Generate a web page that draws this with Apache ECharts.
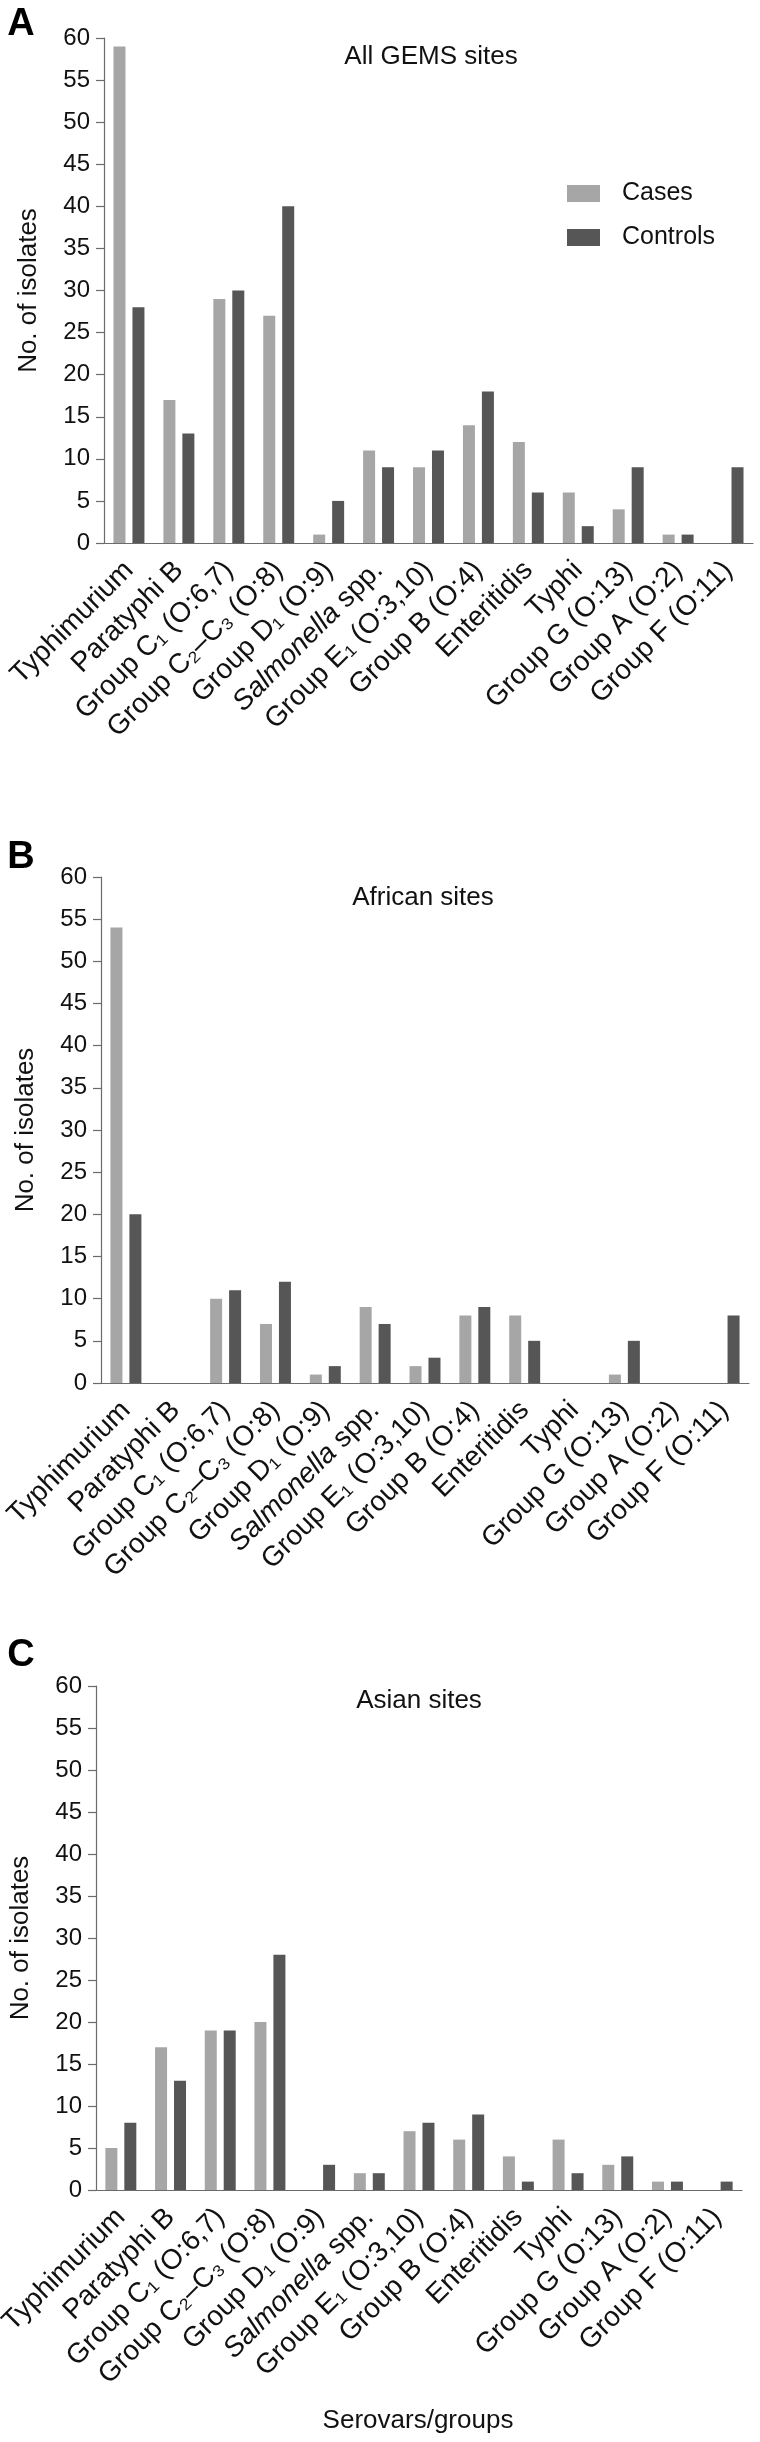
<!DOCTYPE html>
<html>
<head>
<meta charset="utf-8">
<title>Salmonella isolates</title>
<script src="https://cdn.jsdelivr.net/npm/echarts@6/dist/echarts.min.js"></script>
<style>
  html, body { margin: 0; padding: 0; background: #fff; }
  #main { width: 760px; height: 2442px; }
</style>
</head>
<body>
<div id="main"></div>
<script>
// serovars / groups on the x axis (same order in all three panels)
var categories = [
  'Typhimurium', 'Paratyphi B', 'Group C\u2081 (O:6,7)', 'Group C\u2082\u2013C\u2083 (O:8)',
  'Group D\u2081 (O:9)', 'Salmonella spp.', 'Group E\u2081 (O:3,10)', 'Group B (O:4)',
  'Enteritidis', 'Typhi', 'Group G (O:13)', 'Group A (O:2)', 'Group F (O:11)'
];

// A - all GEMS sites
var allCases    = [59, 17, 29, 27, 1, 11, 9, 14, 12, 6, 4, 1, 0];
var allControls = [28, 13, 30, 40, 5, 9, 11, 18, 6, 2, 9, 1, 9];
// B - African sites
var africaCases    = [54, 0, 10, 7, 1, 9, 2, 8, 8, 0, 1, 0, 0];
var africaControls = [20, 0, 11, 12, 2, 7, 3, 9, 5, 0, 5, 0, 8];
// C - Asian sites
var asiaCases    = [5, 17, 19, 20, 0, 2, 7, 6, 4, 6, 3, 1, 0];
var asiaControls = [8, 13, 19, 28, 3, 2, 8, 9, 1, 2, 4, 1, 1];

var panelTitles = ['All GEMS sites', 'African sites', 'Asian sites'];
var panelLetters = ['A', 'B', 'C'];

var FONT = '"Liberation Sans", Arial, Helvetica, sans-serif';
var TXT = '#111';
var AXIS = '#6b6b6b';
var CASE_COLOR = '#a6a6a6';
var CTRL_COLOR = '#565656';

var grids = [
  {left: 104, top: 38, width: 649, height: 505},
  {left: 101, top: 877, width: 648, height: 506},
  {left: 96, top: 1686, width: 646, height: 504}
];

var myChart = echarts.init(document.getElementById('main'), null, {renderer: 'canvas'});

var xAxes = [], yAxes = [], series = [], titles = [];
var data = [[allCases, allControls], [africaCases, africaControls], [asiaCases, asiaControls]];

grids.forEach(function (g, i) {
  xAxes.push({
    type: 'category',
    gridIndex: i,
    data: categories,
    axisLine: {lineStyle: {color: AXIS, width: 1.2}},
    axisTick: {alignWithLabel: true, length: 8, lineStyle: {color: AXIS, width: 1.2}},
    axisLabel: {
      interval: 0,
      rotate: 45,
      margin: 23,
      color: TXT,
      fontSize: 28,
      fontFamily: FONT,
      formatter: function (v) {
        // genus name in italics
        if (v.indexOf('Salmonella') === 0) {
          return '{it|Salmonella}' + v.slice('Salmonella'.length);
        }
        return v;
      },
      rich: {
        it: {fontStyle: 'italic', fontSize: 28, fontFamily: FONT, color: TXT}
      }
    },
    splitLine: {show: false}
  });
  yAxes.push({
    type: 'value',
    gridIndex: i,
    min: 0,
    max: 60,
    interval: 5,
    name: 'No. of isolates',
    nameLocation: 'middle',
    nameRotate: 90,
    nameGap: 62,
    nameTextStyle: {fontSize: 26, color: TXT, fontFamily: FONT},
    axisLine: {show: true, lineStyle: {color: AXIS, width: 1.2}},
    axisTick: {show: true, length: 8, lineStyle: {color: AXIS, width: 1.2}},
    axisLabel: {margin: 14, fontSize: 24, color: TXT, fontFamily: FONT},
    splitLine: {show: false}
  });
  series.push({
    name: 'Cases', type: 'bar', xAxisIndex: i, yAxisIndex: i,
    data: data[i][0], barWidth: 12, barGap: '58%',
    itemStyle: {color: CASE_COLOR}
  });
  series.push({
    name: 'Controls', type: 'bar', xAxisIndex: i, yAxisIndex: i,
    data: data[i][1], barWidth: 12, barGap: '58%',
    itemStyle: {color: CTRL_COLOR}
  });
});

// panel letters and titles
var letterPos = [[21, 25], [21, 858], [21, 1656]];
var titlePos = [[431, 57], [423, 898], [419, 1701]];
for (var k = 0; k < 3; k++) {
  titles.push({
    text: panelLetters[k], left: letterPos[k][0], top: letterPos[k][1], padding: 0,
    textAlign: 'center', textVerticalAlign: 'middle',
    textStyle: {fontSize: 38, fontWeight: 'bold', color: '#000', fontFamily: FONT}
  });
  titles.push({
    text: panelTitles[k], left: titlePos[k][0], top: titlePos[k][1], padding: 0,
    textAlign: 'center', textVerticalAlign: 'middle',
    textStyle: {fontSize: 26, fontWeight: 'normal', color: TXT, fontFamily: FONT}
  });
}
titles.push({
  text: 'Serovars/groups', left: 418, top: 2421, padding: 0,
  textAlign: 'center', textVerticalAlign: 'middle',
  textStyle: {fontSize: 26, fontWeight: 'normal', color: TXT, fontFamily: FONT}
});

var option = {
  animation: false,
  backgroundColor: '#fff',
  title: titles,
  legend: {
    data: ['Cases', 'Controls'],
    orient: 'vertical',
    left: 567,
    top: 181,
    padding: 0,
    icon: 'rect',
    itemWidth: 33,
    itemHeight: 17,
    itemGap: 19,
    textStyle: {fontSize: 25, lineHeight: 25, color: TXT, fontFamily: FONT, padding: [0, 0, 0, 17]}
  },
  grid: grids.map(function (g) {
    return Object.assign({outerBoundsMode: 'none', containLabel: false}, g);
  }),
  xAxis: xAxes,
  yAxis: yAxes,
  series: series
};

myChart.setOption(option);
</script>
</body>
</html>
